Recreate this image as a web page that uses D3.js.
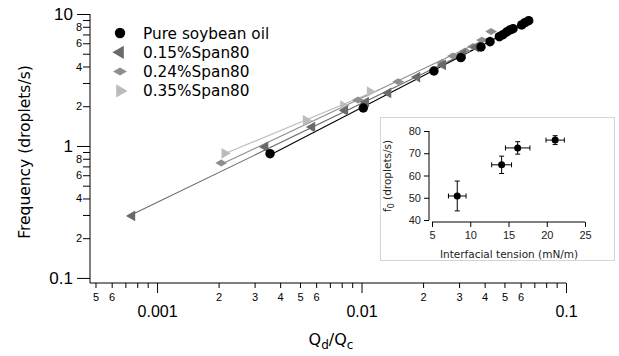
<!DOCTYPE html>
<html>
<head>
<meta charset="utf-8">
<script src="https://cdn.jsdelivr.net/npm/d3@7"></script>
<style>
  body { margin: 0; background: #fff; }
  svg { font-family: "DejaVu Sans", sans-serif; }
</style>
</head>
<body>
<svg id="chart" width="619" height="356"></svg>
<script>
// Flow rate ratio Qd/Qc and frequency (droplets/s)
var pureX = [0.00357, 0.0102, 0.0226, 0.0306, 0.0384, 0.0425, 0.0472, 0.0492, 0.0513, 0.0532, 0.0551, 0.0607, 0.0630, 0.0657];
var pureY = [0.874, 1.94, 3.70, 4.67, 5.62, 6.17, 6.73, 6.97, 7.31, 7.57, 7.74, 8.26, 8.59, 8.90];

var span15X = [0.000755, 0.00338, 0.00573, 0.00830, 0.0105, 0.0135, 0.0187, 0.0250, 0.0313, 0.0363];
var span15Y = [0.295, 0.983, 1.39, 1.86, 2.15, 2.52, 3.33, 4.11, 4.98, 5.62];

var span24X = [0.00206, 0.00961, 0.0151, 0.0247, 0.0280, 0.0321, 0.0351, 0.0388, 0.0430];
var span24Y = [0.743, 2.23, 3.07, 4.28, 4.81, 5.25, 5.67, 6.35, 7.37];

var span35X = [0.00214, 0.00535, 0.00815, 0.0110];
var span35Y = [0.880, 1.56, 2.02, 2.58];

var seriesNames = ["Pure soybean oil", "0.15%Span80", "0.24%Span80", "0.35%Span80"];

// inset: interfacial tension (mN/m) vs f0 (droplets/s)
var tension = [8.3, 14.1, 16.2, 21.1];
var tensionErr = [1.15, 1.3, 1.6, 1.2];
var f0 = [50.8, 64.8, 72.4, 75.9];
var f0Err = [6.7, 3.9, 2.8, 2.0];

var yMinorLabelDigits = [2, 4, 6, 8];
var xMinorLabelDigits = [2, 3, 4, 5, 6];

var colors = ["#000000", "#6a6a6a", "#8e8e8e", "#bcbcbc"];

var svg = d3.select("#chart");

var x = d3.scaleLog().domain([0.00047, 0.1]).range([90, 566]);
var y = d3.scaleLog().domain([0.0915, 10]).range([283, 14]);

function leadDigit(v) {
  return Math.round(v / Math.pow(10, Math.floor(Math.log10(v) + 1e-9)));
}

// y axis
var yTicks = y.ticks().filter(function(v){ return v >= 0.1 && v <= 10.0001; });
var yAxis = svg.append("g")
  .attr("transform", "translate(90,0)")
  .call(d3.axisLeft(y).tickValues(yTicks).tickSize(7).tickPadding(2)
    .tickFormat(function(d){
      var k = leadDigit(d);
      if (k == 1 || k == 10) return d3.format("~g")(d);
      return yMinorLabelDigits.indexOf(k) >= 0 ? k : "";
    }));
yAxis.select(".domain").attr("d", "M0," + y(10) + "V283");
yAxis.selectAll(".tick").each(function(d){
  var k = leadDigit(d);
  var major = (k == 1 || k == 10);
  d3.select(this).select("line").attr("x2", major ? -13 : -7);
  d3.select(this).select("text")
    .attr("x", major ? -17 : -8)
    .style("font-size", major ? "17px" : "11px")
    .attr("fill", "#000");
});

// x axis
var xTicks = x.ticks().filter(function(v){ return v >= 0.00047 && v <= 0.10001; });
var xAxis = svg.append("g")
  .attr("transform", "translate(0,283)")
  .call(d3.axisBottom(x).tickValues(xTicks).tickSize(5)
    .tickFormat(function(d){
      var k = leadDigit(d);
      if (k == 1 || k == 10) return d3.format("~g")(d);
      return xMinorLabelDigits.indexOf(k) >= 0 ? k : "";
    }));
xAxis.select(".domain").attr("d", "M90,0H566");
xAxis.selectAll(".tick").each(function(d){
  var k = leadDigit(d);
  var major = (k == 1 || k == 10);
  d3.select(this).select("line").attr("y2", major ? 10 : 5);
  d3.select(this).select("text")
    .attr("y", major ? 23 : 10)
    .style("font-size", major ? "16px" : "11px")
    .attr("fill", "#000");
});

// axis titles
svg.append("text")
  .attr("transform", "translate(30,152) rotate(-90)")
  .attr("text-anchor", "middle")
  .style("font-size", "15.5px")
  .text("Frequency (droplets/s)");

var xt = svg.append("text")
  .attr("x", 331).attr("y", 345)
  .attr("text-anchor", "middle")
  .style("font-size", "16px");
xt.append("tspan").text("Q");
xt.append("tspan").attr("dy", 4).style("font-size", "12px").text("d");
xt.append("tspan").attr("dy", -4).text("/Q");
xt.append("tspan").attr("dy", 4).style("font-size", "12px").text("c");

// series and power-law fits
var series = [
  { xs: pureX, ys: pureY, shape: "circle" },
  { xs: span15X, ys: span15Y, shape: "left" },
  { xs: span24X, ys: span24Y, shape: "diamond" },
  { xs: span35X, ys: span35Y, shape: "right" }
];

function fitLine(xs, ys) {
  var lx = xs.map(Math.log10), ly = ys.map(Math.log10);
  var mx = d3.mean(lx), my = d3.mean(ly);
  var sxy = d3.sum(lx, function(v, i){ return (v - mx) * (ly[i] - my); });
  var sxx = d3.sum(lx, function(v){ return (v - mx) * (v - mx); });
  var b = sxy / sxx, a = my - b * mx;
  var ends = d3.extent(xs);
  return ends.map(function(v){ return [v, Math.pow(10, a + b * Math.log10(v))]; });
}

function marker(shape) {
  if (shape == "circle") return d3.symbol(d3.symbolCircle, 70)();
  if (shape == "diamond") return d3.symbol(d3.symbolDiamond, 40)();
  return d3.symbol(d3.symbolTriangle, 50)();
}
function rot(shape) {
  if (shape == "left") return " rotate(-90)";
  if (shape == "right") return " rotate(90)";
  if (shape == "diamond") return " rotate(90)";
  return "";
}

var line = d3.line().x(function(d){ return x(d[0]); }).y(function(d){ return y(d[1]); });

series.slice().reverse().forEach(function(s, ri){
  var i = series.length - 1 - ri;
  svg.append("path")
    .datum(fitLine(s.xs, s.ys))
    .attr("d", line)
    .attr("fill", "none")
    .attr("stroke", colors[i])
    .attr("stroke-width", 1.1);
});

series.slice().reverse().forEach(function(s, ri){
  var i = series.length - 1 - ri;
  svg.append("g").selectAll("path")
    .data(s.xs.map(function(v, j){ return [v, s.ys[j]]; }))
    .enter().append("path")
    .attr("d", marker(s.shape))
    .attr("transform", function(d){ return "translate(" + x(d[0]) + "," + y(d[1]) + ")" + rot(s.shape); })
    .attr("fill", colors[i]);
});

// legend
var legend = svg.append("g");
seriesNames.forEach(function(name, i){
  var ly = 33 + i * 19.3;
  var sh = series[i].shape;
  var size = sh == "circle" ? 85 : (sh == "diamond" ? 55 : 75);
  var sym = sh == "circle" ? d3.symbolCircle : (sh == "diamond" ? d3.symbolDiamond : d3.symbolTriangle);
  legend.append("path")
    .attr("d", d3.symbol(sym, size)())
    .attr("transform", "translate(120," + ly + ")" + rot(sh))
    .attr("fill", colors[i]);
  legend.append("text")
    .attr("x", 143).attr("y", ly + 5.5)
    .style("font-size", "15.3px")
    .text(name);
});

// inset
svg.append("rect")
  .attr("x", 380.5).attr("y", 117.5)
  .attr("width", 234).attr("height", 143)
  .attr("fill", "#fff")
  .attr("stroke", "#aaa")
  .attr("stroke-dasharray", "1,1");

var ix = d3.scaleLinear().domain([5, 25]).range([432, 585]);
var iy = d3.scaleLinear().domain([40, 80]).range([220, 131]);

var ixAxis = svg.append("g")
  .attr("transform", "translate(0,222)")
  .call(d3.axisBottom(ix).tickValues([5, 10, 15, 20, 25]).tickSize(5).tickPadding(4));
ixAxis.select(".domain").attr("d", "M432,0H585");
ixAxis.selectAll("text").style("font-size", "11px").attr("fill", "#222");

var iyAxis = svg.append("g")
  .attr("transform", "translate(429,0)")
  .call(d3.axisLeft(iy).tickValues([40, 50, 60, 70, 80]).tickSize(5).tickPadding(3));
iyAxis.select(".domain").attr("d", "M0,131V220");
iyAxis.selectAll("text").style("font-size", "11px").attr("fill", "#222");

svg.append("text")
  .attr("x", 509).attr("y", 258)
  .attr("text-anchor", "middle")
  .style("font-size", "10.5px")
  .attr("fill", "#222")
  .text("Interfacial tension (mN/m)");

var it = svg.append("text")
  .attr("transform", "translate(391,176) rotate(-90)")
  .attr("text-anchor", "middle")
  .style("font-size", "10.5px")
  .attr("fill", "#222");
it.append("tspan").text("f");
it.append("tspan").attr("dy", 3).style("font-size", "8px").text("0");
it.append("tspan").attr("dy", -3).text(" (droplets/s)");

var pts = tension.map(function(v, i){ return { x: v, xe: tensionErr[i], y: f0[i], ye: f0Err[i] }; });
var eg = svg.append("g").attr("stroke", "#000").attr("stroke-width", 1);
pts.forEach(function(p){
  eg.append("line").attr("x1", ix(p.x - p.xe)).attr("x2", ix(p.x + p.xe)).attr("y1", iy(p.y)).attr("y2", iy(p.y));
  eg.append("line").attr("x1", ix(p.x)).attr("x2", ix(p.x)).attr("y1", iy(p.y - p.ye)).attr("y2", iy(p.y + p.ye));
  [p.x - p.xe, p.x + p.xe].forEach(function(v){
    eg.append("line").attr("x1", ix(v)).attr("x2", ix(v)).attr("y1", iy(p.y) - 2.5).attr("y2", iy(p.y) + 2.5);
  });
  [p.y - p.ye, p.y + p.ye].forEach(function(v){
    eg.append("line").attr("x1", ix(p.x) - 2.5).attr("x2", ix(p.x) + 2.5).attr("y1", iy(v)).attr("y2", iy(v));
  });
});
svg.append("g").selectAll("circle")
  .data(pts).enter().append("circle")
  .attr("cx", function(d){ return ix(d.x); })
  .attr("cy", function(d){ return iy(d.y); })
  .attr("r", 3.5)
  .attr("fill", "#000");
</script>
</body>
</html>
